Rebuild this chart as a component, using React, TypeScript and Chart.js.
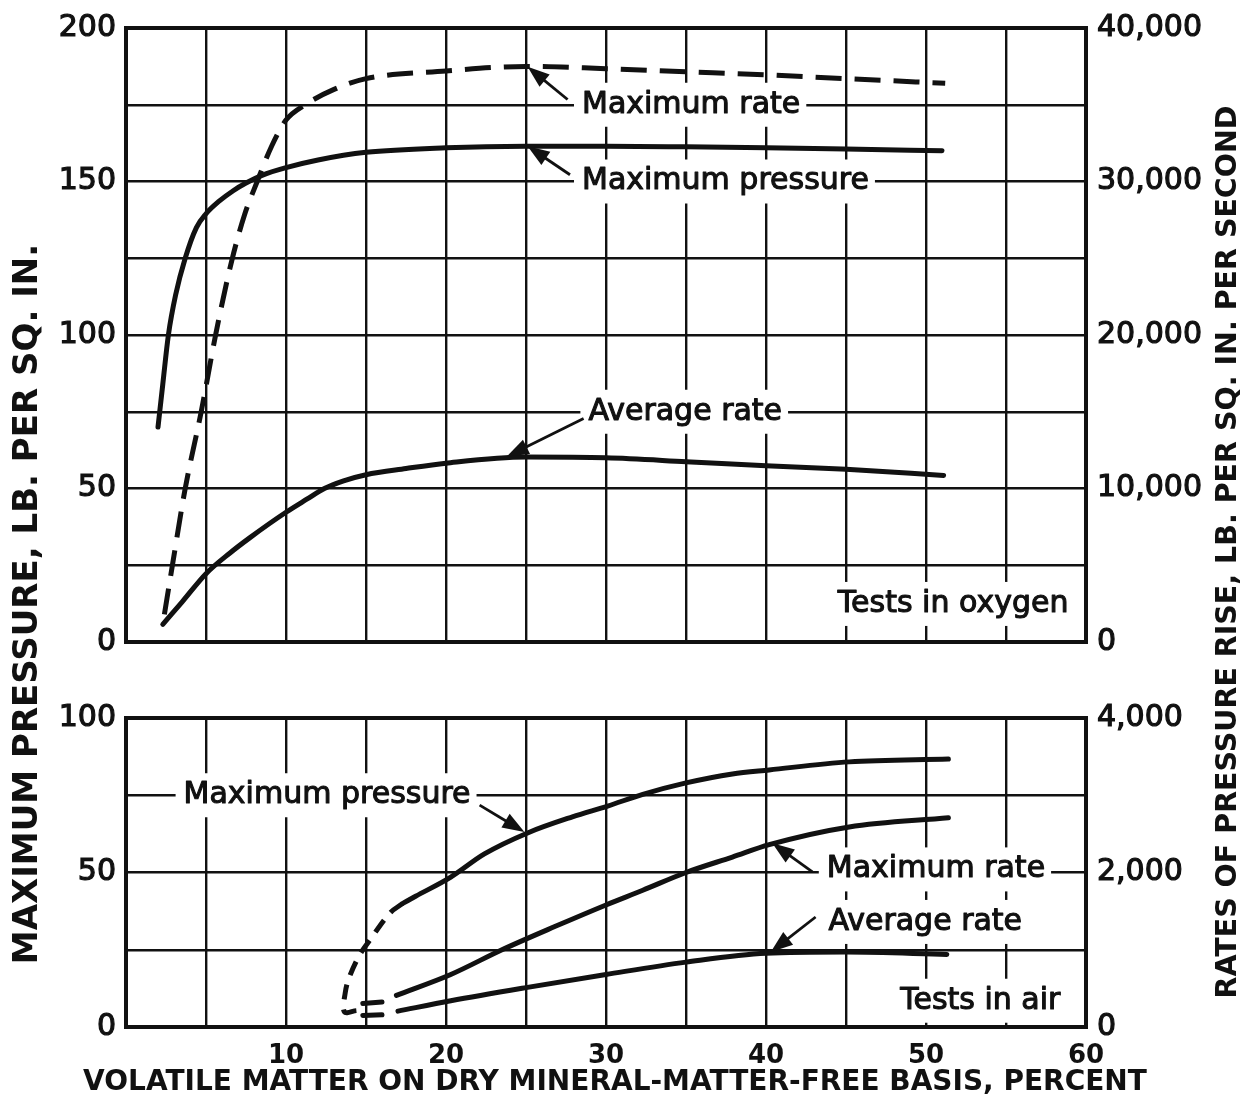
import React, { useEffect, useRef } from "react";
import { Chart, registerables } from "chart.js";

Chart.register(...registerables);

const W = 1251;
const H = 1108;
const FONT = '"DejaVu Sans", "Liberation Sans", sans-serif';
const INK = "#111";

// ---- Tests in oxygen (x: volatile matter, %) ----
const oxPressureX = [2, 2.3, 2.65, 3.1, 3.7, 4.4, 5, 5.8, 6.7, 7.5, 8.5, 10, 12, 15, 20, 25, 30, 35, 40, 45, 51];
const oxPressure = [70, 84, 100, 113, 125, 135, 139.5, 143.5, 147, 149.5, 152, 154.5, 157, 159.5, 161, 161.5, 161.5, 161.3, 161, 160.6, 160];

const oxMaxRateX = [2.4, 2.9, 3.7, 4.7, 5.6, 6.6, 7.4, 8.2, 9.1, 10, 11.2, 13, 15, 20, 25, 30, 35, 40, 45, 51.2];
const oxMaxRate = [1800, 5000, 10000, 15000, 20000, 24800, 27800, 30000, 32300, 34000, 35000, 36000, 36700, 37200, 37500, 37350, 37150, 36950, 36700, 36400];

const oxAvgRateX = [2.3, 3.5, 5, 6.5, 7.75, 10, 11.3, 12.4, 13.6, 15, 17.5, 20, 25, 30, 35, 40, 45, 51.1];
const oxAvgRate = [1150, 2600, 4450, 5800, 6800, 8450, 9300, 10000, 10500, 10900, 11300, 11650, 12050, 12000, 11750, 11480, 11250, 10850];

// ---- Tests in air ----
const airPressureLowX = [14.4, 13.65, 13.7, 13.95, 14.6, 15.25, 16.5, 17.3];
const airPressureLow = [5.3, 4.9, 11, 16, 23.3, 28.2, 36.9, 40];
const airPressureX = [17.3, 18.1, 20.3, 22.4, 25.1, 27.9, 30.1, 32.3, 35, 37.9, 40.2, 45.2, 51.4];
const airPressure = [40, 42.3, 48.5, 56, 62.8, 68, 71.5, 75.3, 79, 81.9, 83.2, 85.8, 86.7];

const airMaxRateLowX = [14.8, 16.0];
const airMaxRateLow = [305, 325];
const airMaxRateX = [16.9, 20.3, 23.5, 26.8, 30, 32.3, 35, 37.9, 40.2, 45.2, 51.4];
const airMaxRate = [410, 680, 1000, 1300, 1580, 1770, 2000, 2200, 2360, 2590, 2710];

const airAvgRateLowX = [14.8, 16.0];
const airAvgRateLow = [150, 158];
const airAvgRateX = [17, 20.3, 25, 30, 35, 40, 45, 51.3];
const airAvgRate = [205, 340, 510, 680, 840, 955, 970, 940];

// ---- Axis text ----
const leftTitle = "MAXIMUM PRESSURE, LB. PER SQ. IN.";
const rightTitle = "RATES OF PRESSURE RISE, LB. PER SQ. IN. PER SECOND";
const xTitle = "VOLATILE MATTER ON DRY MINERAL-MATTER-FREE BASIS, PERCENT";

type Note = {
  text: string;
  x: number;
  y: number;
  anchor: "start" | "end";
  tail?: [number, number];
  head?: [number, number];
};

// Callouts, placed in x / left-axis units of their panel
const oxygenNotes: Note[] = [
  { text: "Maximum rate", x: 28.5, y: 175, anchor: "start", tail: [27.6, 176.7], head: [25.1, 187.4] },
  { text: "Maximum pressure", x: 28.5, y: 150, anchor: "start", tail: [27.75, 152.2], head: [25.1, 161.5] },
  { text: "Average rate", x: 28.9, y: 75, anchor: "start", tail: [28.6, 72.8], head: [23.8, 60.4] },
  { text: "Tests in oxygen", x: 58.9, y: 12.4, anchor: "end" },
];

const airNotes: Note[] = [
  { text: "Maximum pressure", x: 3.6, y: 75, anchor: "start", tail: [22.1, 71.8], head: [24.9, 63.1] },
  { text: "Maximum rate", x: 43.8, y: 51, anchor: "start", tail: [42.9, 50.2], head: [40.4, 59.5] },
  { text: "Average rate", x: 43.9, y: 34, anchor: "start", tail: [43.1, 35.6], head: [40.3, 24.3] },
  { text: "Tests in air", x: 58.4, y: 8.5, anchor: "end" },
];

const pts = (xs: number[], ys: number[]) => xs.map((x, i) => ({ x, y: ys[i] }));

const curve = (data: { x: number; y: number }[], yAxisID: string, extra: any = {}) => ({
  data,
  yAxisID,
  borderColor: INK,
  borderWidth: 5,
  pointRadius: 0,
  fill: false,
  cubicInterpolationMode: "monotone",
  borderCapStyle: "round",
  ...extra,
});

const framePlugin = {
  id: "frame",
  beforeDatasetsDraw(chart: any) {
    const { ctx, chartArea: a } = chart;
    ctx.save();
    ctx.strokeStyle = INK;
    ctx.lineWidth = 4;
    ctx.strokeRect(a.left, a.top, a.right - a.left, a.bottom - a.top);
    ctx.restore();
  },
};

function drawArrow(ctx: CanvasRenderingContext2D, x0: number, y0: number, x1: number, y1: number) {
  const ang = Math.atan2(y1 - y0, x1 - x0);
  const len = 22;
  const half = 8;
  ctx.beginPath();
  ctx.moveTo(x0, y0);
  ctx.lineTo(x1 - Math.cos(ang) * len * 0.8, y1 - Math.sin(ang) * len * 0.8);
  ctx.lineWidth = 2.8;
  ctx.stroke();
  ctx.beginPath();
  ctx.moveTo(x1, y1);
  ctx.lineTo(x1 - Math.cos(ang) * len + Math.sin(ang) * half, y1 - Math.sin(ang) * len - Math.cos(ang) * half);
  ctx.lineTo(x1 - Math.cos(ang) * len - Math.sin(ang) * half, y1 - Math.sin(ang) * len + Math.cos(ang) * half);
  ctx.closePath();
  ctx.fill();
}

function notesPlugin(id: string, notes: Note[]) {
  return {
    id,
    afterDatasetsDraw(chart: any) {
      const { ctx } = chart;
      const xs = chart.scales.x;
      const ys = chart.scales.y;
      ctx.save();
      ctx.font = `30px ${FONT}`;
      ctx.textBaseline = "middle";
      ctx.textAlign = "left";
      ctx.lineJoin = "round";
      for (const n of notes) {
        const px = xs.getPixelForValue(n.x);
        const py = ys.getPixelForValue(n.y);
        const w = ctx.measureText(n.text).width;
        const left = n.anchor === "start" ? px : px - w;
        ctx.fillStyle = "#fff";
        ctx.fillRect(left - 8, py - 22, w + 14, 44);
        ctx.fillStyle = INK;
        ctx.strokeStyle = INK;
        ctx.lineWidth = 1.1;
        ctx.fillText(n.text, left, py);
        ctx.strokeText(n.text, left, py);
        if (n.tail && n.head) {
          drawArrow(
            ctx,
            xs.getPixelForValue(n.tail[0]),
            ys.getPixelForValue(n.tail[1]),
            xs.getPixelForValue(n.head[0]),
            ys.getPixelForValue(n.head[1])
          );
        }
      }
      ctx.restore();
    },
  };
}

// Shared axis titles that span both panels
const titlesPlugin = {
  id: "sharedTitles",
  afterDraw(chart: any) {
    const { ctx } = chart;
    ctx.save();
    ctx.fillStyle = INK;
    ctx.textAlign = "center";
    ctx.textBaseline = "middle";
    ctx.font = `bold 28px ${FONT}`;
    ctx.fillText(xTitle, 615, 1083);
    ctx.save();
    ctx.translate(28, 604);
    ctx.rotate(-Math.PI / 2);
    ctx.font = `bold 34px ${FONT}`;
    ctx.fillText(leftTitle, 0, 0);
    ctx.restore();
    ctx.save();
    ctx.translate(1229, 552);
    ctx.rotate(-Math.PI / 2);
    ctx.font = `bold 28.5px ${FONT}`;
    ctx.fillText(rightTitle, 0, 0);
    ctx.restore();
    ctx.restore();
  },
};

const gridStyle = { color: INK, lineWidth: 2.4, drawTicks: false };
const tickFont = { family: FONT, size: 30 };

function panelScales(opts: {
  yMax: number;
  yStep: number;
  yLabelEvery: number;
  rMax: number;
  rStep: number;
  showX: boolean;
}) {
  return {
    x: {
      type: "linear",
      min: 0,
      max: 60,
      grid: gridStyle,
      border: { display: false },
      ticks: {
        display: opts.showX,
        stepSize: 5,
        padding: 14,
        color: INK,
        font: { family: FONT, size: 26, weight: "bold" },
        callback: (v: any) => (v > 0 && v % 10 === 0 ? String(v) : ""),
      },
      afterFit: (s: any) => {
        s.height = opts.showX ? 81 : 0;
      },
    },
    y: {
      position: "left",
      min: 0,
      max: opts.yMax,
      grid: gridStyle,
      border: { display: false },
      ticks: {
        stepSize: opts.yStep,
        padding: 10,
        color: INK,
        textStrokeColor: INK,
        textStrokeWidth: 1.2,
        font: tickFont,
        callback: (v: any) => (v % opts.yLabelEvery === 0 ? String(v) : ""),
      },
      afterFit: (s: any) => {
        s.width = 126;
      },
    },
    y2: {
      position: "right",
      min: 0,
      max: opts.rMax,
      grid: { display: false },
      border: { display: false },
      ticks: {
        stepSize: opts.rStep,
        padding: 3,
        color: INK,
        textStrokeColor: INK,
        textStrokeWidth: 1.2,
        font: tickFont,
        callback: (v: any) => Number(v).toLocaleString("en-US"),
      },
      afterFit: (s: any) => {
        s.width = 165;
      },
    },
  };
}

export default function App() {
  const topRef = useRef<HTMLCanvasElement | null>(null);
  const bottomRef = useRef<HTMLCanvasElement | null>(null);

  useEffect(() => {
    const common = {
      responsive: false,
      animation: false,
      plugins: { legend: { display: false }, tooltip: { enabled: false } },
    };

    const oxygen = new Chart(topRef.current as HTMLCanvasElement, {
      type: "line",
      data: {
        datasets: [
          curve(pts(oxPressureX, oxPressure), "y"),
          curve(pts(oxMaxRateX, oxMaxRate), "y2", { borderDash: [26, 13], borderCapStyle: "butt" }),
          curve(pts(oxAvgRateX, oxAvgRate), "y2"),
        ],
      } as any,
      options: {
        ...common,
        layout: { padding: { left: 0, right: 0, top: 24, bottom: H - 642 } },
        scales: panelScales({ yMax: 200, yStep: 25, yLabelEvery: 50, rMax: 40000, rStep: 10000, showX: false }),
      } as any,
      plugins: [framePlugin, notesPlugin("oxygenNotes", oxygenNotes)],
    });

    const air = new Chart(bottomRef.current as HTMLCanvasElement, {
      type: "line",
      data: {
        datasets: [
          curve(pts(airPressureLowX, airPressureLow), "y", {
            borderDash: [15, 10],
            borderCapStyle: "butt",
            cubicInterpolationMode: "default",
            tension: 0.35,
          }),
          curve(pts(airPressureX, airPressure), "y"),
          curve(pts(airMaxRateLowX, airMaxRateLow), "y2"),
          curve(pts(airMaxRateX, airMaxRate), "y2"),
          curve(pts(airAvgRateLowX, airAvgRateLow), "y2"),
          curve(pts(airAvgRateX, airAvgRate), "y2"),
        ],
      } as any,
      options: {
        ...common,
        layout: { padding: { left: 0, right: 0, top: 718, bottom: 0 } },
        scales: panelScales({ yMax: 100, yStep: 25, yLabelEvery: 50, rMax: 4000, rStep: 2000, showX: true }),
      } as any,
      plugins: [framePlugin, notesPlugin("airNotes", airNotes), titlesPlugin],
    });

    return () => {
      oxygen.destroy();
      air.destroy();
    };
  }, []);

  const canvasStyle: React.CSSProperties = { position: "absolute", left: 0, top: 0 };
  return (
    <div style={{ position: "fixed", left: 0, top: 0, width: W, height: H, background: "#fff" }}>
      <canvas ref={topRef} width={W} height={H} style={canvasStyle} />
      <canvas ref={bottomRef} width={W} height={H} style={canvasStyle} />
    </div>
  );
}
